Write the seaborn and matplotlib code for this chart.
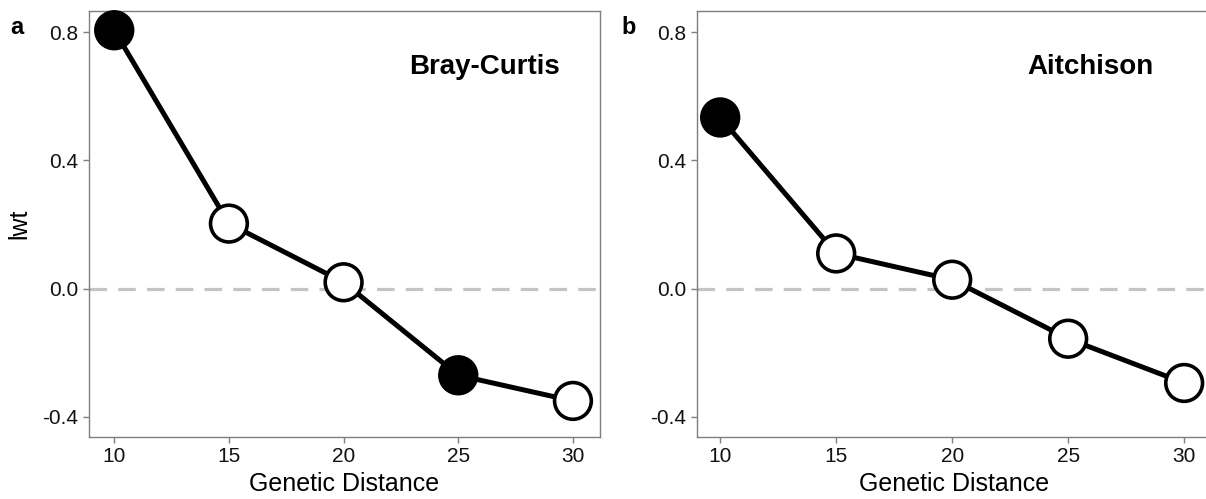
import matplotlib
matplotlib.use("Agg")
import matplotlib.pyplot as plt
import seaborn as sns
import pandas as pd

# ---- data ----
distance = [10, 15, 20, 25, 30]
bray_curtis = [0.806, 0.203, 0.020, -0.270, -0.350]
aitchison = [0.534, 0.110, 0.028, -0.156, -0.294]
bray_sig = [True, False, False, True, False]
aitch_sig = [True, False, False, False, False]
panel_titles = ["Bray-Curtis", "Aitchison"]
panel_letters = ["a", "b"]
xticks = [10, 15, 20, 25, 30]
yticks = [-0.4, 0.0, 0.4, 0.8]

sns.set_style("ticks")
plt.rcParams["font.family"] = ["Liberation Sans", "DejaVu Sans"]
plt.rcParams["text.color"] = "black"
plt.rcParams["axes.labelcolor"] = "black"

W, H = 1206, 499
fig = plt.figure(figsize=(W / 100, H / 100), dpi=100)

# axes rectangles in pixels: left, right, top, bottom
rects = [(89, 600, 11, 437), (697, 1212, 11, 437)]
xlims = [(8.9, 31.18), (9.0, 31.2)]
ylim = (-0.4625, 0.866)

series = [(bray_curtis, bray_sig), (aitchison, aitch_sig)]
text_pos = [(26.15, 0.69), (25.95, 0.69)]
letter_x = [17, 629]

spine_col = "#7f7f7f"
for i in range(2):
    l, r, t, b = rects[i]
    ax = fig.add_axes([l / W, (H - b) / H, (r - l) / W, (b - t) / H])
    vals, sig = series[i]
    df = pd.DataFrame({"dist": distance, "lwt": vals, "sig": sig})
    ax.axhline(0, color="#c4c4c4", lw=2.3, dashes=(5.5, 3.5), zorder=1)
    sns.lineplot(data=df, x="dist", y="lwt", ax=ax, color="black", lw=3.6,
                 zorder=2, legend=False)
    sns.scatterplot(data=df, x="dist", y="lwt", hue="sig",
                    palette={True: "black", False: "white"}, s=700,
                    edgecolor="black", linewidth=2.6, ax=ax, zorder=3,
                    legend=False, clip_on=False)
    ax.set_xlim(*xlims[i])
    ax.set_ylim(*ylim)
    ax.set_xticks(xticks)
    ax.set_yticks(yticks)
    ax.set_xticklabels([str(v) for v in xticks])
    ax.set_yticklabels([f"{v:.1f}" for v in yticks])
    ax.tick_params(labelsize=15, length=4.5, width=1, color=spine_col,
                   labelcolor="#111111", pad=3)
    for sp in ax.spines.values():
        sp.set_visible(True)
        sp.set_color(spine_col)
        sp.set_linewidth(1.0)
    ax.set_xlabel("Genetic Distance", fontsize=18, labelpad=4)
    if i == 0:
        ax.set_ylabel("lwt", fontsize=18, labelpad=8)
    else:
        ax.set_ylabel("")
    ax.text(text_pos[i][0], text_pos[i][1], panel_titles[i], fontsize=20,
            fontweight="bold", ha="center", va="center", color="black")
    fig.text(letter_x[i] / W, (H - 27) / H, panel_letters[i],
             fontsize=17, fontweight="bold", ha="center", va="center",
             color="black")

fig.savefig("out.png", dpi=100)
